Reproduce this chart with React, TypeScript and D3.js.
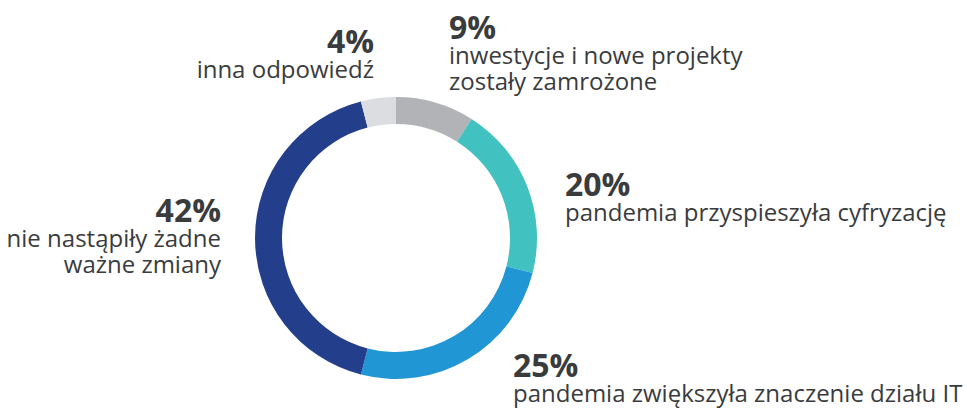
import { useRef, useEffect } from 'react';
import * as d3 from 'd3';

const categories = [
  'inwestycje i nowe projekty zostały zamrożone',
  'pandemia przyspieszyła cyfryzację',
  'pandemia zwiększyła znaczenie działu IT',
  'nie nastąpiły żadne ważne zmiany',
  'inna odpowiedź',
];
const values = [9, 20, 25, 42, 4];
const colors = ['#b2b3b7', '#41c1bf', '#2196d5', '#233f8b', '#dcdde1'];

// label lines per slice, and where each label block sits
const labelLines = [
  ['inwestycje i nowe projekty', 'zostały zamrożone'],
  ['pandemia przyspieszyła cyfryzację'],
  ['pandemia zwiększyła znaczenie działu IT'],
  ['nie nastąpiły żadne', 'ważne zmiany'],
  ['inna odpowiedź'],
];
const labelPos = [
  { x: 449, y: 39, anchor: 'start' },
  { x: 565, y: 196, anchor: 'start' },
  { x: 513, y: 377, anchor: 'start' },
  { x: 221, y: 222, anchor: 'end' },
  { x: 374, y: 53, anchor: 'end' },
];

export default function App() {
  const svgRef = useRef<SVGSVGElement>(null);

  useEffect(() => {
    const width = 967;
    const height = 410;
    const cx = 396;
    const cy = 238;
    const outer = 141;
    const inner = 114;

    const svg = d3.select(svgRef.current);
    svg.selectAll('*').remove();
    svg.attr('width', width).attr('height', height);

    const pie = d3.pie<number>().sort(null).value(d => d);
    const arc = d3.arc<d3.PieArcDatum<number>>().innerRadius(inner).outerRadius(outer);

    const g = svg.append('g').attr('transform', `translate(${cx}, ${cy})`);
    g.selectAll('path')
      .data(pie(values))
      .enter()
      .append('path')
      .attr('d', arc)
      .attr('fill', (d, i) => colors[i]);

    const labels = svg.append('g')
      .attr('font-family', '"Open Sans", sans-serif')
      .attr('fill', '#3a3b3d');

    values.forEach((v, i) => {
      const p = labelPos[i];
      const t = labels.append('text')
        .attr('x', p.x)
        .attr('y', p.y)
        .attr('text-anchor', p.anchor)
        .attr('data-category', categories[i]);
      t.append('tspan')
        .attr('x', p.x)
        .attr('font-size', 32)
        .attr('font-weight', 700)
        .text(`${v}%`);
      labelLines[i].forEach((line, j) => {
        t.append('tspan')
          .attr('x', p.x)
          .attr('dy', j === 0 ? 25 : 26)
          .attr('font-size', 24)
          .text(line);
      });
    });
  }, []);

  return (
    <svg ref={svgRef} style={{ position: 'absolute', left: 0, top: 0 }} />
  );
}
